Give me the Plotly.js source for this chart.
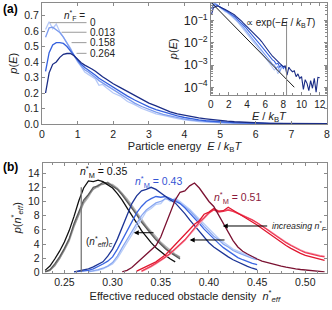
<!DOCTYPE html>
<html>
<head>
<meta charset="utf-8">
<script src="https://cdn.plot.ly/plotly-3.0.1.min.js"></script>
<style>html,body{margin:0;padding:0;background:#fff;}#chart{width:332px;height:310px;}</style>
</head>
<body>
<div id="chart"></div>
<script>
// ---------- Panel (a): energy distributions ----------
const energy = [0.1,0.2,0.3,0.4,0.5,0.6,0.7,0.8,0.9,1.0,1.1,1.2,1.3,1.4,1.5,1.6,1.7,1.8,1.9,2.0,
  2.2,2.4,2.6,2.8,3.0,3.2,3.4,3.6,3.8,4.0,4.2,4.4,4.6,4.8,5.0,5.2,5.4,5.6,5.8,6.0,
  6.2,6.4,6.6,6.8,7.0,7.2,7.4,7.6,7.8,8.0,8.2,8.4,8.6,8.8,9.0,9.2,9.4,9.6,9.8,10.0,
  10.2,10.4,10.6,10.8,11.0,11.2,11.4,11.6,11.8,12.0];
const nF_labels = ["0","0.013","0.158","0.264"];
const pE_nF0 = [0.61,0.66,0.615,0.645,0.595,0.56,0.53,0.49,0.44,0.40,0.37,0.335,0.32,0.305,0.29,0.25,0.255,0.235,0.215,0.20,
  0.18,0.145,0.125,0.10,0.083,0.066,0.055,0.042,0.034,0.026,0.020,0.016,0.013,0.0098,0.0076,0.0060,0.0046,0.0036,0.0028,0.0021,
  0.0017,0.0013,0.0010,0.0008,0.0006,0.0007,0.0004,0.0006];
const pE_nF013 = [0.56,0.62,0.625,0.61,0.59,0.56,0.52,0.48,0.44,0.405,0.375,0.35,0.335,0.32,0.30,0.28,0.265,0.25,0.235,0.22,
  0.19,0.16,0.135,0.113,0.093,0.076,0.062,0.050,0.039,0.031,0.025,0.020,0.016,0.0125,0.0098,0.0078,0.0060,0.0047,0.0037,0.0029,
  0.0023,0.0018,0.0015,0.0011,0.0010,0.0007,0.0009,0.0005,0.0008];
const pE_nF158 = [0.34,0.46,0.51,0.525,0.525,0.52,0.50,0.47,0.44,0.41,0.385,0.365,0.35,0.335,0.315,0.295,0.28,0.265,0.25,0.235,
  0.21,0.18,0.155,0.13,0.11,0.093,0.078,0.063,0.052,0.042,0.033,0.026,0.021,0.017,0.0135,0.011,0.0088,0.0070,0.0055,0.0044,
  0.0035,0.0027,0.0022,0.0017,0.0015,0.0011,0.0012,0.0008,0.0010,0.0007,0.0009];
const pE_nF264 = [0.20,0.33,0.385,0.40,0.43,0.45,0.455,0.455,0.44,0.415,0.395,0.38,0.37,0.355,0.34,0.32,0.305,0.29,0.272,0.26,
  0.235,0.21,0.185,0.155,0.135,0.117,0.095,0.078,0.065,0.055,0.047,0.039,0.033,0.027,0.022,0.018,0.0145,0.0115,0.0092,0.0068,
  0.0053,0.0041,0.0031,0.0025,0.0021,0.0017,0.0014,0.0012,0.0010,0.00085,0.0009,0.00035,0.0008,0.0006,0.0005,0.00055,0.0003,0.0004,0.00025,0.0003,
  0.00008,0.00022,0.00015,0.00007,0.0002,0.00009,0.00025,0.00006,0.00028,0.00027];
const boltzE = [0, 9.2];
const boltzP = [0.7, 0.0001];

// ---------- Panel (b): effective density distributions ----------
const dens35 = [0.230,0.235,0.240,0.245,0.250,0.255,0.260,0.265,0.270,0.275,0.280,0.285,0.290,0.295,0.300,
  0.305,0.310,0.315,0.320,0.325,0.330,0.335,0.340,0.345,0.350,0.355,0.360,0.365,0.370];
const p35_a = [0.3,0.9,1.9,3.0,4.3,5.9,7.9,10.1,11.9,12.9,12.8,13.0,12.8,12.4,11.9,11.1,10.2,9.1,8.1,7.0,5.9,5.0,4.2,3.5,2.9,2.4,1.9,1.5];
const p35_b = [0.1,0.4,1.2,2.2,3.4,4.8,6.9,8.6,10.2,11.0,12.0,12.2,12.7,12.6,12.2,11.7,10.9,10.0,9.1,8.1,7.1,6.2,5.4,4.6,3.9,3.3,2.8,2.3,1.9];
const p35_c = [0.1,0.3,1.0,2.0,3.2,4.6,6.6,8.3,9.9,10.9,11.7,12.3,12.4,12.7,12.3,11.8,11.1,10.2,9.3,8.3,7.3,6.4,5.6,4.8,4.1,3.5,2.9,2.5,2.1];
const p35_d = [0.05,0.3,0.9,1.9,3.1,4.4,6.4,8.1,9.7,10.6,11.8,12.0,12.6,12.4,12.4,11.9,11.2,10.4,9.5,8.5,7.5,6.6,5.8,5.0,4.3,3.7,3.1,2.6,2.2];

const dens43 = [0.260,0.265,0.270,0.275,0.280,0.285,0.290,0.295,0.300,0.305,0.310,0.315,0.320,0.325,0.330,
  0.335,0.340,0.345,0.350,0.355,0.360,0.365,0.370,0.375,0.380,0.385,0.390,0.395,0.400,0.405,
  0.410,0.415,0.420,0.425,0.430,0.435,0.440,0.445,0.450];
const p43_a = [0.1,0.2,0.35,0.5,0.8,1.1,1.5,2.3,3.3,4.7,6.3,8.0,9.7,10.8,11.5,11.7,12.0,11.7,11.2,10.6,10.2,9.8,9.1,8.3,7.4,6.6,5.7,4.9,4.2,3.6,3.1,2.6,2.2,1.8,1.45,1.15,0.85,0.6,0.4];
const p43_b = [0.05,0.1,0.2,0.3,0.5,0.8,1.2,1.6,2.2,3.3,4.6,5.9,7.3,8.4,9.3,10.0,10.4,10.7,10.6,10.7,10.4,10.0,9.7,9.1,8.4,7.6,6.9,6.1,5.4,4.7,4.1,3.5,3.0,2.5,2.1,1.8,1.5,1.3,1.1];
const p43_c = [null,null,null,0.1,0.2,0.4,0.6,0.9,1.4,2.3,3.5,4.6,5.6,6.9,8.0,8.8,9.3,9.8,10.0,10.4,10.2,10.3,9.8,9.3,8.7,8.0,7.2,6.5,5.8,5.1,4.6,4.0,3.6,3.1,2.8,2.5,2.2,2.0,1.8];
const p43_d = [null,null,null,0.1,0.15,0.3,0.5,0.8,1.2,2.0,3.1,4.3,5.3,6.5,7.6,8.6,9.0,9.6,9.7,10.5,10.0,10.5,10.0,9.5,8.9,8.2,7.5,6.8,6.1,5.4,4.8,4.3,3.8,3.3,3.0,2.7,2.4,2.2,2.0];

const dens51 = [0.310,0.315,0.320,0.325,0.330,0.335,0.340,0.345,0.350,0.355,0.360,0.365,0.370,0.375,0.380,
  0.385,0.390,0.395,0.400,0.405,0.410,0.415,0.420,0.425,0.430,0.435,0.440,0.445,0.450,0.455,
  0.460,0.465,0.470,0.475,0.480,0.485,0.490,0.495,0.500,0.505,0.510,0.515,0.520];
const p51_a = [0.1,0.3,0.7,1.3,2.0,2.6,3.1,3.8,5.0,6.7,8.5,10.2,11.3,11.5,12.2,12.6,11.9,10.9,10.0,9.3,8.1,6.8,5.6,4.5,3.6,3.0,2.6,2.2,1.9,1.6,1.4,1.2,1.05,0.9,0.75,0.6,0.5,0.42,0.35,0.3,0.22,0.15,0.1];
const p51_b = [null,null,null,0.2,0.5,0.8,1.1,1.5,2.0,2.5,3.2,3.9,4.6,5.3,6.0,6.8,7.3,8.2,8.5,9.0,8.6,8.7,9.2,8.8,8.4,8.0,7.6,7.2,6.7,6.2,5.7,5.2,4.7,4.2,3.8,3.4,3.0,2.7,2.4,2.2,2.0,1.8,1.7];
const p51_c = [null,null,null,null,0.2,0.5,0.9,1.3,1.7,2.2,2.7,3.3,3.9,4.6,5.4,6.3,7.1,7.7,8.4,8.8,8.5,8.6,8.8,8.6,8.3,8.1,7.8,7.4,7.0,6.6,6.1,5.6,5.1,4.6,4.2,3.8,3.4,3.1,2.8,2.6,2.4,2.3,2.2];
const p51_d = [null,null,null,null,0.1,0.4,0.8,1.2,1.6,2.1,2.6,3.2,3.8,4.5,5.3,6.1,6.9,7.6,8.3,8.9,8.7,8.7,8.9,8.7,8.4,8.1,7.8,7.4,7.0,6.6,6.2,5.7,5.2,4.7,4.3,3.9,3.5,3.2,2.9,2.7,2.5,2.4,2.3];

// ---------- styling ----------
const FONT = 'Liberation Sans, Arial, Helvetica, sans-serif';
const colA = ['#b6c9f7','#7c9cef','#3561de','#1b2d86'];
const col35 = ['#111111','#5a5a5a','#8c8c8c','#b8b8b8'];
const col43 = ['#1d3596','#3b66e2','#8aa8f1','#b9cdf8'];
const col51 = ['#7b1232','#e1172f','#ee3a55','#f6a2b2'];

function ln(x, y, color, xa, ya, w) {
  return {x: x, y: y, type: 'scatter', mode: 'lines', xaxis: xa, yaxis: ya,
    line: {color: color, width: w || 1.3}, hoverinfo: 'skip', showlegend: false, connectgaps: false};
}

const seriesA = [pE_nF0, pE_nF013, pE_nF158, pE_nF264];
const traces = [];
seriesA.forEach((s, i) => traces.push(ln(energy, s, colA[i], 'x', 'y', 1.3)));
seriesA.forEach((s, i) => traces.push(ln(energy, s, colA[i], 'x2', 'y2', 1.1)));
traces.push(ln(boltzE, boltzP, '#000000', 'x2', 'y2', 0.9));
[[p35_d,col35[3]],[p35_c,col35[2]],[p35_b,col35[1]],[p35_a,col35[0]]].forEach(p => traces.push(ln(dens35, p[0], p[1], 'x3', 'y3', 1.3)));
[[p43_d,col43[3]],[p43_c,col43[2]],[p43_b,col43[1]],[p43_a,col43[0]]].forEach(p => traces.push(ln(dens43, p[0], p[1], 'x3', 'y3', 1.3)));
[[p51_d,col51[3]],[p51_c,col51[2]],[p51_b,col51[1]],[p51_a,col51[0]]].forEach(p => traces.push(ln(dens51, p[0], p[1], 'x3', 'y3', 1.3)));

const W = 332, H = 310;
const px = v => v / W, py = v => 1 - v / H;
const axBase = {showline: true, mirror: 'ticks', linecolor: '#8a8a8a', linewidth: 1,
  ticks: 'inside', ticklen: 3, tickcolor: '#8a8a8a', showgrid: false, zeroline: false,
  tickfont: {family: FONT, size: 10.5, color: '#222'}, fixedrange: true};
const titleFont = {family: FONT, size: 11, color: '#222'};

const layout = {
  width: W, height: H, margin: {l: 0, r: 0, t: 0, b: 0},
  paper_bgcolor: '#ffffff', plot_bgcolor: '#ffffff', showlegend: false,
  font: {family: FONT, size: 10.5, color: '#222'},
  xaxis: Object.assign({}, axBase, {domain: [px(42), px(327)], range: [0, 8], dtick: 1, anchor: 'y',
    title: {text: 'Particle energy  <i>E</i> / <i>k</i><sub>B</sub><i>T</i>', font: titleFont, standoff: 2}}),
  yaxis: Object.assign({}, axBase, {domain: [py(124), py(2.5)], range: [0, 0.784], dtick: 0.1, tickformat: '.1f', anchor: 'x',
    title: {text: '<i>p</i>(<i>E</i>)', font: titleFont, standoff: 4}}),
  xaxis2: Object.assign({}, axBase, {domain: [px(210.7), px(327)], range: [0, 12.8], dtick: 2, anchor: 'y2',
    minor: {dtick: 1, ticks: 'inside', ticklen: 2, tickcolor: '#8a8a8a'},
    tickfont: {family: FONT, size: 10, color: '#222'},
    title: {text: '<i>E</i> / <i>k</i><sub>B</sub><i>T</i>', font: titleFont, standoff: 2}}),
  yaxis2: Object.assign({}, axBase, {domain: [py(95), py(2.5)], type: 'log', range: [-4.35, -0.18], dtick: 1,
    exponentformat: 'power', anchor: 'x2',
    minor: {ticks: 'inside', ticklen: 2, tickcolor: '#8a8a8a', dtick: 'D1'},
    tickfont: {family: FONT, size: 10, color: '#222'},
    title: {text: '<i>p</i>(<i>E</i>)', font: titleFont, standoff: 3}}),
  xaxis3: Object.assign({}, axBase, {domain: [px(42.7), px(327)], range: [0.2275, 0.5225], dtick: 0.05, tick0: 0.25,
    tickformat: '.2f', anchor: 'y3',
    minor: {dtick: 0.0125, ticks: 'inside', ticklen: 2, tickcolor: '#8a8a8a'},
    title: {text: 'Effective reduced obstacle density  <i>n</i><sup>*</sup><sub><i>eff</i></sub>', font: titleFont, standoff: 2}}),
  yaxis3: Object.assign({}, axBase, {domain: [py(272.5), py(163)], range: [0, 15.42], dtick: 2, anchor: 'x3',
    title: {text: '<i>p</i>(<i>n</i><sup>*</sup><sub><i>eff</i></sub>)', font: titleFont, standoff: 4}}),
  shapes: [
    {type: 'line', xref: 'x', yref: 'y', x0: 0.22, x1: 1.25, y0: 0.654, y1: 0.654, line: {color: '#9a9a9a', width: 1}},
    {type: 'line', xref: 'x', yref: 'y', x0: 0.55, x1: 1.25, y0: 0.592, y1: 0.592, line: {color: '#9a9a9a', width: 1}},
    {type: 'line', xref: 'x', yref: 'y', x0: 0.83, x1: 1.25, y0: 0.525, y1: 0.525, line: {color: '#9a9a9a', width: 1}},
    {type: 'line', xref: 'x', yref: 'y', x0: 0.97, x1: 1.25, y0: 0.456, y1: 0.456, line: {color: '#9a9a9a', width: 1}},
    {type: 'line', xref: 'x2', yref: 'y2 domain', x0: 8.35, x1: 8.35, y0: 0, y1: 0.80, line: {color: '#8a8a8a', width: 1}},
    {type: 'line', xref: 'x3', yref: 'y3', x0: 0.2675, x1: 0.2675, y0: 0, y1: 12, line: {color: '#777777', width: 1.3}}
  ],
  annotations: [
    {xref: 'paper', yref: 'paper', x: px(1), y: py(8.5), xanchor: 'left', yanchor: 'middle', showarrow: false,
      text: '<b>(a)</b>', font: {family: FONT, size: 12, color: '#000'}},
    {xref: 'paper', yref: 'paper', x: px(1), y: py(166.5), xanchor: 'left', yanchor: 'middle', showarrow: false,
      text: '<b>(b)</b>', font: {family: FONT, size: 12, color: '#000'}},
    {xref: 'x', yref: 'y', x: 0.92, y: 0.703, showarrow: false, text: '<i>n</i><sup>*</sup><sub>F</sub> =',
      font: {family: FONT, size: 10, color: '#222'}},
    {xref: 'x', yref: 'y', x: 1.3, y: 0.654, xanchor: 'left', showarrow: false, text: nF_labels[0], font: {family: FONT, size: 10, color: '#222'}},
    {xref: 'x', yref: 'y', x: 1.3, y: 0.592, xanchor: 'left', showarrow: false, text: nF_labels[1], font: {family: FONT, size: 10, color: '#222'}},
    {xref: 'x', yref: 'y', x: 1.3, y: 0.525, xanchor: 'left', showarrow: false, text: nF_labels[2], font: {family: FONT, size: 10, color: '#222'}},
    {xref: 'x', yref: 'y', x: 1.3, y: 0.456, xanchor: 'left', showarrow: false, text: nF_labels[3], font: {family: FONT, size: 10, color: '#222'}},
    {xref: 'x2 domain', yref: 'y2 domain', x: 0.6, y: 0.865, showarrow: false,
      text: '\u221D exp(\u2212<i>E</i> / <i>k</i><sub>B</sub><i>T</i>)', font: {family: FONT, size: 10, color: '#222'}},
    {xref: 'x3', yref: 'y3', x: 0.2903, y: 14.2, showarrow: false,
      text: '<i>n</i><sup>*</sup><sub>M</sub> = 0.35', font: {family: FONT, size: 10.5, color: '#111'}},
    {xref: 'x3', yref: 'y3', x: 0.3478, y: 12.8, showarrow: false,
      text: '<i>n</i><sup>*</sup><sub>M</sub> = 0.43', font: {family: FONT, size: 10.5, color: '#3556d4'}},
    {xref: 'x3', yref: 'y3', x: 0.4297, y: 10.45, showarrow: false,
      text: '<i>n</i><sup>*</sup><sub>M</sub> = 0.51', font: {family: FONT, size: 10.5, color: '#8b1a3c'}},
    {xref: 'x3', yref: 'y3', x: 0.2705, y: 4.3, xanchor: 'left', showarrow: false,
      text: '(<i>n</i><sup>*</sup><sub><i>eff</i></sub>)<sub><i>c</i></sub>', font: {family: FONT, size: 10, color: '#222'}},
    {xref: 'x3', yref: 'y3', x: 0.322, y: 5.6, axref: 'x3', ayref: 'y3', ax: 0.344, ay: 5.6, text: '',
      showarrow: true, arrowhead: 2, arrowsize: 1, arrowwidth: 1, arrowcolor: '#000'},
    {xref: 'x3', yref: 'y3', x: 0.380, y: 4.58, axref: 'x3', ayref: 'y3', ax: 0.4177, ay: 4.58, text: '',
      showarrow: true, arrowhead: 2, arrowsize: 1, arrowwidth: 1, arrowcolor: '#000'},
    {xref: 'x3', yref: 'y3', x: 0.4143, y: 6.55, axref: 'x3', ayref: 'y3', ax: 0.462, ay: 6.55, text: '',
      showarrow: true, arrowhead: 2, arrowsize: 1, arrowwidth: 1, arrowcolor: '#000'},
    {xref: 'paper', yref: 'y3', x: px(329), y: 6.55, xanchor: 'right', showarrow: false,
      text: '<i>increasing n</i><sup>*</sup><sub><i>F</i></sub>', font: {family: FONT, size: 8.8, color: '#222'}}
  ]
};

Plotly.newPlot('chart', traces, layout, {staticPlot: true, displayModeBar: false});
</script>
</body>
</html>
